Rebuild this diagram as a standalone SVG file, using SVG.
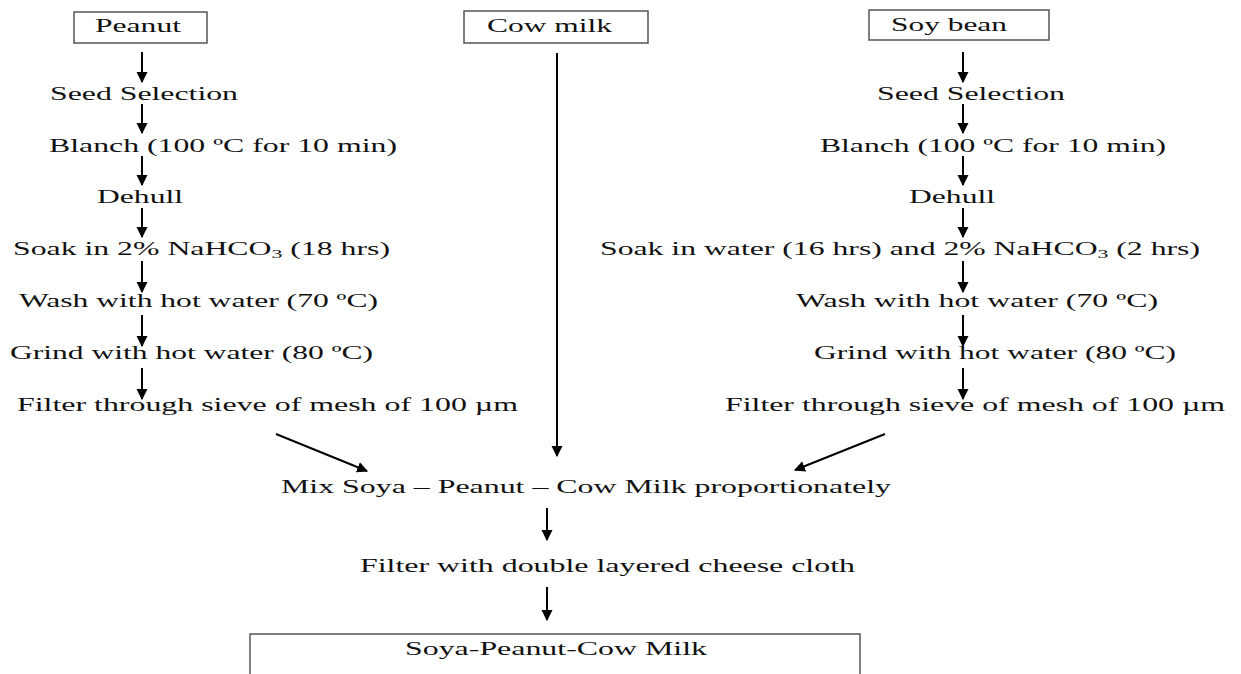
<svg xmlns="http://www.w3.org/2000/svg" width="1241" height="674" viewBox="0 0 1241 674">
<style>
text{font-family:"Liberation Serif","DejaVu Serif",serif;font-size:19px;fill:#111}
.box{fill:#fff;stroke:#555;stroke-width:1.5}
.c{stroke:#000;stroke-width:2;fill:none;marker-end:url(#ah)}
.sub{font-size:13px}
</style>
<defs>
<marker id="ah" viewBox="0 0 10 10" refX="9" refY="5" markerWidth="5.5" markerHeight="6" orient="auto" markerUnits="strokeWidth">
<path d="M0,0 L10,5 L0,10 z" fill="#000"/>
</marker>
</defs>
<rect width="1241" height="674" fill="#fff"/>
<g id="n-peanut"><rect class="box" x="74" y="12" width="133" height="31"/><text x="95" y="32" textLength="86" lengthAdjust="spacingAndGlyphs">Peanut</text></g>
<g id="n-cowmilk"><rect class="box" x="464" y="11" width="184" height="32"/><text x="487" y="32" textLength="125" lengthAdjust="spacingAndGlyphs">Cow milk</text></g>
<g id="n-soybean"><rect class="box" x="869" y="10" width="180" height="30"/><text x="891" y="31" textLength="116" lengthAdjust="spacingAndGlyphs">Soy bean</text></g>

<g id="n-l1"><text x="50" y="100" textLength="188" lengthAdjust="spacingAndGlyphs">Seed Selection</text></g>
<g id="n-l2"><text x="49" y="152" textLength="348" lengthAdjust="spacingAndGlyphs">Blanch (100 ºC for 10 min)</text></g>
<g id="n-l3"><text x="97" y="203" textLength="86" lengthAdjust="spacingAndGlyphs">Dehull</text></g>
<g id="n-l4"><text x="13" y="255" textLength="377" lengthAdjust="spacingAndGlyphs">Soak in 2% NaHCO<tspan class="sub" dy="3">3</tspan><tspan dy="-3"> (18 hrs)</tspan></text></g>
<g id="n-l5"><text x="19" y="307" textLength="359" lengthAdjust="spacingAndGlyphs">Wash with hot water (70 ºC)</text></g>
<g id="n-l6"><text x="10" y="359" textLength="363" lengthAdjust="spacingAndGlyphs">Grind with hot water (80 ºC)</text></g>
<g id="n-l7"><text x="17" y="411" textLength="501" lengthAdjust="spacingAndGlyphs">Filter through sieve of mesh of 100 µm</text></g>

<g id="n-r1"><text x="877" y="100" textLength="188" lengthAdjust="spacingAndGlyphs">Seed Selection</text></g>
<g id="n-r2"><text x="820" y="152" textLength="346" lengthAdjust="spacingAndGlyphs">Blanch (100 ºC for 10 min)</text></g>
<g id="n-r3"><text x="909" y="203" textLength="86" lengthAdjust="spacingAndGlyphs">Dehull</text></g>
<g id="n-r4"><text x="600" y="255" textLength="600" lengthAdjust="spacingAndGlyphs">Soak in water (16 hrs) and 2% NaHCO<tspan class="sub" dy="3">3</tspan><tspan dy="-3"> (2 hrs)</tspan></text></g>
<g id="n-r5"><text x="796" y="307" textLength="362" lengthAdjust="spacingAndGlyphs">Wash with hot water (70 ºC)</text></g>
<g id="n-r6"><text x="814" y="359" textLength="362" lengthAdjust="spacingAndGlyphs">Grind with hot water (80 ºC)</text></g>
<g id="n-r7"><text x="725" y="411" textLength="500" lengthAdjust="spacingAndGlyphs">Filter through sieve of mesh of 100 µm</text></g>

<g id="n-mix"><text x="281" y="493" textLength="610" lengthAdjust="spacingAndGlyphs">Mix Soya – Peanut – Cow Milk proportionately</text></g>
<g id="n-filter"><text x="360" y="572" textLength="495" lengthAdjust="spacingAndGlyphs">Filter with double layered cheese cloth</text></g>
<g id="n-final"><rect class="box" x="250" y="634" width="610" height="60"/><text x="405" y="655" textLength="302" lengthAdjust="spacingAndGlyphs">Soya-Peanut-Cow Milk</text></g>

<g id="connectors">
<line class="c" x1="142" y1="52" x2="142" y2="82"/>
<line class="c" x1="142" y1="104" x2="142" y2="133"/>
<line class="c" x1="142" y1="156" x2="142" y2="185"/>
<line class="c" x1="142" y1="208" x2="142" y2="237"/>
<line class="c" x1="142" y1="261" x2="142" y2="292"/>
<line class="c" x1="142" y1="315" x2="142" y2="346"/>
<line class="c" x1="142" y1="368" x2="142" y2="399"/>

<line class="c" x1="963" y1="52" x2="963" y2="82"/>
<line class="c" x1="963" y1="104" x2="963" y2="133"/>
<line class="c" x1="963" y1="156" x2="963" y2="185"/>
<line class="c" x1="963" y1="208" x2="963" y2="237"/>
<line class="c" x1="963" y1="261" x2="963" y2="292"/>
<line class="c" x1="963" y1="315" x2="963" y2="346"/>
<line class="c" x1="963" y1="368" x2="963" y2="399"/>

<line class="c" x1="557" y1="53" x2="557" y2="456"/>
<line class="c" x1="276" y1="434" x2="367" y2="471"/>
<line class="c" x1="885" y1="434" x2="795" y2="470"/>
<line class="c" x1="547" y1="508" x2="547" y2="540"/>
<line class="c" x1="547" y1="587" x2="547" y2="620"/>
</g>
</svg>
